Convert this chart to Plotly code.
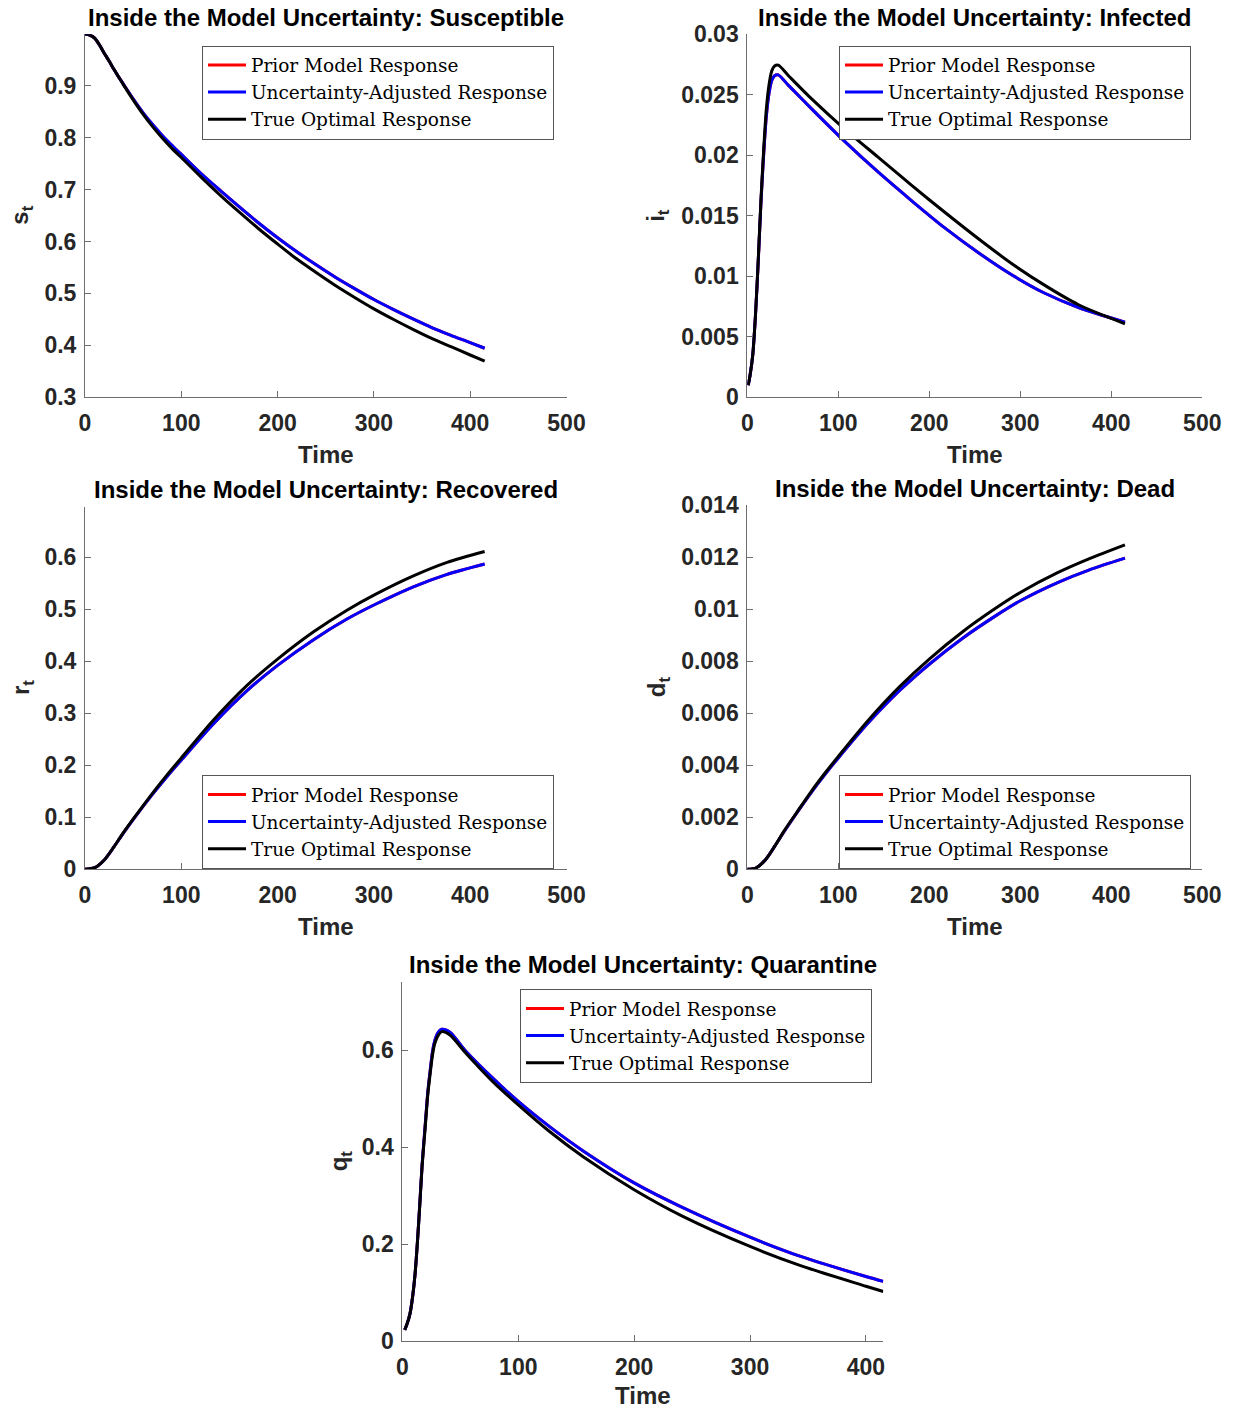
import plotly.graph_objects as go

# ---------------- data ----------------
t_s = [0, 5, 10, 15, 20, 25, 30, 35, 40, 50, 60, 70, 80, 90, 100, 120, 140, 160, 180, 200, 220, 240,
       260, 280, 300, 320, 340, 360, 380, 400, 415]
true_s = [1.000, 0.998, 0.992, 0.979, 0.963, 0.948, 0.932, 0.917, 0.902, 0.873, 0.846, 0.822, 0.800,
          0.780, 0.762, 0.725, 0.690, 0.657, 0.625, 0.595, 0.566, 0.540, 0.515, 0.492, 0.470, 0.450,
          0.431, 0.413, 0.397, 0.381, 0.369]
adj_s = [1.000, 0.998, 0.992, 0.979, 0.963, 0.948, 0.932, 0.917, 0.903, 0.875, 0.849, 0.826, 0.805,
         0.786, 0.768, 0.732, 0.699, 0.667, 0.636, 0.607, 0.580, 0.555, 0.531, 0.509, 0.488, 0.469,
         0.451, 0.434, 0.419, 0.405, 0.394]
prior_s = list(adj_s)

t_i = [1, 3, 6, 9, 12, 15, 18, 21, 24, 27, 30, 34, 45, 71, 107, 144, 181, 217, 254, 290, 327, 364, 415]
true_i = [0.0010, 0.0018, 0.0035, 0.0068, 0.0113, 0.0163, 0.0205, 0.0239, 0.0259, 0.0270, 0.02738, 0.02745,
          0.0266, 0.02464, 0.02217, 0.01983, 0.01749, 0.01529, 0.01310, 0.01108, 0.00925, 0.00765, 0.00608]
adj_i = [0.0010, 0.0018, 0.0035, 0.0068, 0.0112, 0.0161, 0.0201, 0.0233, 0.0252, 0.0262, 0.02658, 0.02665,
         0.0258, 0.02382, 0.02115, 0.01860, 0.01622, 0.01400, 0.01195, 0.01015, 0.00860, 0.00742, 0.00621]
prior_i = list(adj_i)

t_r = [0, 10, 20, 30, 40, 55, 70, 85, 100, 133, 168, 200, 237, 272, 300, 341, 376, 415]
true_r = [0.000, 0.003, 0.018, 0.043, 0.071, 0.109, 0.146, 0.181, 0.214, 0.286, 0.353, 0.404, 0.456,
          0.498, 0.527, 0.564, 0.590, 0.611]
adj_r = [0.000, 0.003, 0.018, 0.043, 0.070, 0.108, 0.144, 0.178, 0.210, 0.279, 0.343, 0.392, 0.441,
         0.481, 0.508, 0.543, 0.567, 0.587]
prior_r = list(adj_r)

t_d = [0, 10, 20, 30, 40, 55, 70, 85, 100, 133, 168, 200, 237, 272, 300, 341, 376, 415]
true_d = [0.0, 0.00006, 0.00037, 0.00088, 0.00145, 0.00222, 0.00298, 0.00368, 0.00434, 0.00573, 0.00704,
          0.00808, 0.00914, 0.01001, 0.01064, 0.01140, 0.01194, 0.01247]
adj_d = [0.0, 0.00006, 0.00037, 0.00088, 0.00143, 0.00220, 0.00294, 0.00363, 0.00428, 0.00563, 0.00689,
         0.00788, 0.00889, 0.00972, 0.01032, 0.01102, 0.01151, 0.01196]
prior_d = list(adj_d)

t_q = [2, 4, 6.6, 9, 11, 13, 15, 17, 19.5, 22, 24, 26, 28, 31, 34, 41, 55, 78, 100, 127, 156, 200,
       242, 300, 343, 400, 415]
true_q = [0.023, 0.035, 0.057, 0.095, 0.140, 0.205, 0.280, 0.360, 0.435, 0.510, 0.552, 0.590, 0.614,
          0.631, 0.638, 0.631, 0.593, 0.535, 0.487, 0.432, 0.380, 0.312, 0.257, 0.195, 0.156, 0.113, 0.102]
adj_q = [0.023, 0.035, 0.057, 0.095, 0.140, 0.205, 0.282, 0.363, 0.440, 0.515, 0.558, 0.597, 0.620,
         0.637, 0.643, 0.637, 0.597, 0.542, 0.494, 0.442, 0.392, 0.326, 0.275, 0.214, 0.175, 0.133, 0.123]
prior_q = list(adj_q)

series_names = ["Prior Model Response", "Uncertainty-Adjusted Response", "True Optimal Response"]
series_colors = ["#ff0000", "#0000ff", "#000000"]

titles = ["Inside the Model Uncertainty: Susceptible", "Inside the Model Uncertainty: Infected",
          "Inside the Model Uncertainty: Recovered", "Inside the Model Uncertainty: Dead",
          "Inside the Model Uncertainty: Quarantine"]
ylabels = ["s<sub>t</sub>", "i<sub>t</sub>", "r<sub>t</sub>", "d<sub>t</sub>", "q<sub>t</sub>"]

yticks = [
    ([0.3, 0.4, 0.5, 0.6, 0.7, 0.8, 0.9], ["0.3", "0.4", "0.5", "0.6", "0.7", "0.8", "0.9"]),
    ([0, 0.005, 0.01, 0.015, 0.02, 0.025, 0.03], ["0", "0.005", "0.01", "0.015", "0.02", "0.025", "0.03"]),
    ([0, 0.1, 0.2, 0.3, 0.4, 0.5, 0.6], ["0", "0.1", "0.2", "0.3", "0.4", "0.5", "0.6"]),
    ([0, 0.002, 0.004, 0.006, 0.008, 0.01, 0.012, 0.014],
     ["0", "0.002", "0.004", "0.006", "0.008", "0.01", "0.012", "0.014"]),
    ([0, 0.2, 0.4, 0.6], ["0", "0.2", "0.4", "0.6"]),
]
xticks_full = [0, 100, 200, 300, 400, 500]
xticks_q = [0, 100, 200, 300, 400]

# ---------------- layout geometry (window pixels) ----------------
W, H = 1235, 1410
# (x0, x1, ytop, ybottom) in window pixels
boxes = [
    (85, 566.5, 34.3, 397.0),
    (747.3, 1202.3, 34.3, 397.3),
    (85, 566.5, 506.7, 869.3),
    (747.3, 1202.3, 505.0, 869.3),
    (402.4, 883.3, 981.7, 1341.0),
]
xranges = [[0, 500], [0, 500], [0, 500], [0, 500], [0, 415]]
yranges = [[0.3, 0.9995], [0, 0.03], [0, 0.697], [0, 0.014], [0, 0.741]]
legend_pos = [(554, 45.5), (1191, 45.5), (554, 775), (1191, 775), (872, 989)]  # right, top
ylabel_x = [22, 658, 22, 658, 340]
xlabel_gap = [57, 57, 57, 57, 54]


def px(x):
    return x / W


def py(y):
    return 1 - y / H


data = [
    (t_s, prior_s, adj_s, true_s),
    (t_i, prior_i, adj_i, true_i),
    (t_r, prior_r, adj_r, true_r),
    (t_d, prior_d, adj_d, true_d),
    (t_q, prior_q, adj_q, true_q),
]

fig = go.Figure()
annotations = []
layout = dict(width=W, height=H, margin=dict(l=0, r=0, t=0, b=0, autoexpand=False),
              paper_bgcolor="white", plot_bgcolor="white", showlegend=True)

axis_col = "#6e6e6e"
tick_font = dict(family="Liberation Sans", size=23, color="#262626", weight="bold")

for k in range(5):
    n = k + 1
    xa = "x" if n == 1 else f"x{n}"
    ya = "y" if n == 1 else f"y{n}"
    lg = "legend" if n == 1 else f"legend{n}"
    t, p, a, tr = data[k]
    for vals, name, col in zip((p, a, tr), series_names, series_colors):
        fig.add_trace(go.Scatter(x=t, y=vals, mode="lines", name=name,
                                 line=dict(color=col, width=3, shape="spline", smoothing=0.8),
                                 xaxis=xa, yaxis=ya, legend=lg, hoverinfo="skip"))
    x0, x1, yt, yb = boxes[k]
    xk = "xaxis" if n == 1 else f"xaxis{n}"
    yk = "yaxis" if n == 1 else f"yaxis{n}"
    layout[xk] = dict(domain=[px(x0), px(x1)], anchor=ya, range=xranges[k], automargin=False,
                      tickvals=xticks_q if k == 4 else xticks_full,
                      ticks="inside", ticklen=6, tickcolor=axis_col, showline=True, linecolor=axis_col,
                      linewidth=1, mirror=False, showgrid=False, zeroline=False, tickfont=tick_font,
                      ticklabelstandoff=5)
    layout[yk] = dict(domain=[py(yb), py(yt)], anchor=xa, range=yranges[k], automargin=False,
                      tickvals=yticks[k][0], ticktext=yticks[k][1],
                      ticks="inside", ticklen=6, tickcolor=axis_col, showline=True, linecolor=axis_col,
                      linewidth=1, mirror=False, showgrid=False, zeroline=False, tickfont=tick_font,
                      ticklabelstandoff=3)
    lx, ly = legend_pos[k]
    layout[lg] = dict(x=px(lx), y=py(ly), xanchor="right", yanchor="top", xref="paper", yref="paper",
                      bgcolor="white", bordercolor="#555555", borderwidth=1,
                      font=dict(family="DejaVu Serif", size=18.5, color="#000000"),
                      tracegroupgap=0, itemwidth=38)
    cx = (x0 + x1) / 2
    annotations.append(dict(text="<b>" + titles[k] + "</b>", x=px(cx), y=py(yt - 17),
                            xref="paper", yref="paper", xanchor="center", yanchor="middle",
                            showarrow=False, font=dict(family="Liberation Sans", size=24, color="#000000")))
    annotations.append(dict(text="<b>Time</b>", x=px(cx), y=py(yb + xlabel_gap[k]),
                            xref="paper", yref="paper", xanchor="center", yanchor="middle",
                            showarrow=False, font=dict(family="Liberation Sans", size=24, color="#262626")))
    annotations.append(dict(text="<b>" + ylabels[k] + "</b>", x=px(ylabel_x[k]), y=py((yt + yb) / 2),
                            xref="paper", yref="paper", xanchor="center", yanchor="middle", textangle=-90,
                            showarrow=False, font=dict(family="Liberation Sans", size=24, color="#262626")))

layout["annotations"] = annotations
fig.update_layout(**layout)
fig.write_html("out.html", config={"displayModeBar": False, "staticPlot": True},
               post_script="document.body.style.margin='0';document.body.style.overflow='hidden';")
